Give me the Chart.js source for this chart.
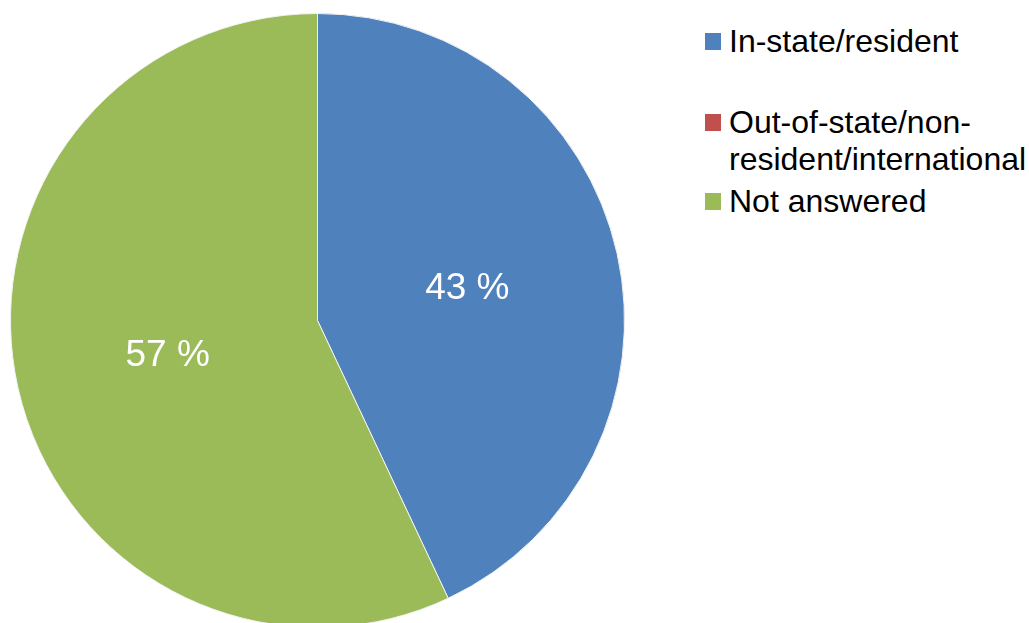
<!DOCTYPE html>
<html>
<head>
<meta charset="utf-8">
<script src="https://cdn.jsdelivr.net/npm/chart.js@4.4.1/dist/chart.umd.min.js"></script>
<style>
  html, body { margin: 0; padding: 0; background: #fff; overflow: hidden; }
  body { width: 1029px; height: 623px; position: relative; font-family: "Liberation Sans", Arial, sans-serif; }
  #wrap { position: absolute; left: 10px; top: 13px; width: 615px; height: 615px; }
  #legend { position: absolute; left: 705px; top: 0; font-size: 32px; color: #000; line-height: 37px; }
  .item { position: absolute; padding-left: 24px; white-space: nowrap; }
  .box { position: absolute; left: 0; top: 10px; width: 16px; height: 17px; }
</style>
</head>
<body>
<div id="wrap"><canvas id="pie"></canvas></div>
<div id="legend"></div>
<script>
const categories = ["In-state/resident", "Out-of-state/non-resident/international", "Not answered"];
const legendLines = [["In-state/resident"], ["Out-of-state/non-", "resident/international"], ["Not answered"]];
const percents = [43, 0, 57];
const colors = ["#4F81BD", "#C0504D", "#9BBB59"];

// percentage labels at half radius
const sliceLabels = {
  id: "sliceLabels",
  afterDatasetsDraw(chart) {
    const ctx = chart.ctx;
    const meta = chart.getDatasetMeta(0);
    ctx.save();
    ctx.font = '37px "Liberation Sans", Arial, sans-serif';
    ctx.fillStyle = "#fff";
    ctx.textAlign = "center";
    ctx.textBaseline = "middle";
    meta.data.forEach((arc, i) => {
      if (!percents[i]) return;
      const mid = (arc.startAngle + arc.endAngle) / 2;
      const r = arc.outerRadius * 0.5;
      ctx.fillText(percents[i] + " %", arc.x + Math.cos(mid) * r, arc.y + Math.sin(mid) * r + 2);
    });
    ctx.restore();
  }
};

new Chart(document.getElementById("pie"), {
  type: "pie",
  data: {
    labels: categories,
    datasets: [{
      data: percents,
      backgroundColor: colors,
      borderColor: "#f2f2f2",
      borderWidth: 1
    }]
  },
  options: {
    responsive: true,
    maintainAspectRatio: false,
    animation: false,
    layout: { padding: 0 },
    plugins: { legend: { display: false }, tooltip: { enabled: false } }
  },
  plugins: [sliceLabels]
});

// legend with wrapped text like the original
const legend = document.getElementById("legend");
const tops = [23, 104, 183];
legendLines.forEach((lines, i) => {
  const div = document.createElement("div");
  div.className = "item";
  div.style.top = tops[i] + "px";
  div.innerHTML = '<span class="box" style="background:' + colors[i] + '"></span>' + lines.join("<br>");
  legend.appendChild(div);
});
</script>
</body>
</html>
